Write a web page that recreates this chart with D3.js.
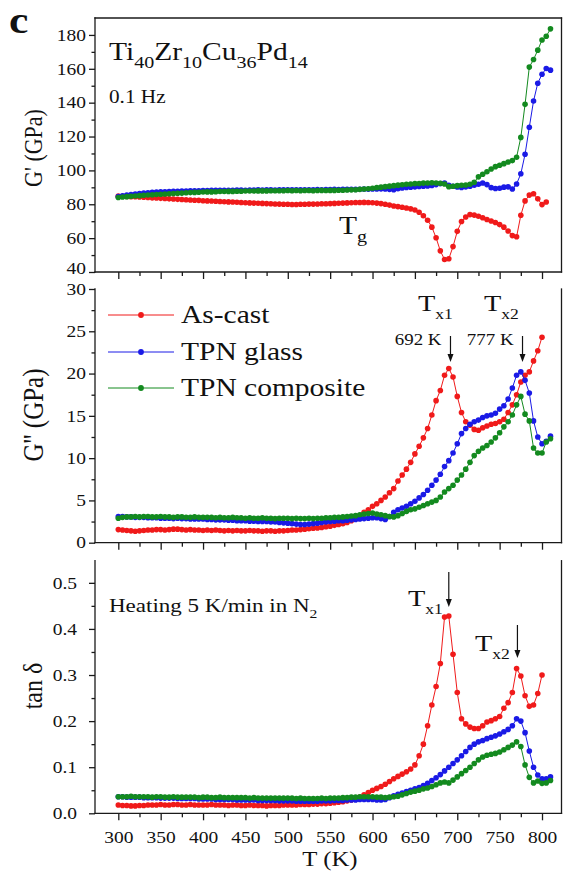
<!DOCTYPE html>
<html>
<head>
<meta charset="utf-8">
<script src="https://cdn.jsdelivr.net/npm/d3@7"></script>
<style>
  body { margin: 0; background: #fff; }
  svg { display: block; }
  text { font-family: "Liberation Serif", "Times New Roman", serif; fill: #111; }
</style>
</head>
<body>
<svg id="chart" width="563" height="873"></svg>
<script>
// Measurement temperatures (K), heating at 5 K/min
const temperature = [
  300,305,310,315,320,325,330,335,340,345,
  350,355,360,365,370,375,380,385,390,395,
  400,405,410,415,420,425,430,435,440,445,
  450,455,460,465,470,475,480,485,490,495,
  500,505,510,515,520,525,530,535,540,545,
  550,555,560,565,570,575,580,585,590,595,
  600,605,610,615,620,625,630,635,640,645,
  650,655,660,665,670,675,680,685,690,695,
  700,705,710,715,720,725,730,735,740,745,
  750,755,760,765,770,775,780,785,790,795,
  800,805,810
];

const seriesNames = ["As-cast", "TPN glass", "TPN composite"];
const seriesColors = ["#f01a1a", "#1a1ae6", "#138a1f"];

// Storage modulus G' (GPa)
const storageAsCast = [
  84.8,84.7,84.6,84.5,84.4,84.3,84.1,84.0,83.8,83.7,
  83.5,83.4,83.2,83.1,82.9,82.8,82.7,82.5,82.4,82.3,
  82.1,82.0,81.9,81.8,81.6,81.5,81.4,81.3,81.2,81.0,
  80.9,80.8,80.7,80.6,80.5,80.4,80.3,80.2,80.1,80.0,
  80.0,79.9,79.9,80.0,80.0,80.1,80.1,80.2,80.3,80.3,
  80.4,80.5,80.6,80.7,80.8,80.9,81.0,81.0,81.1,81.0,
  80.9,80.7,80.4,80.0,79.5,79.0,78.6,78.2,77.8,77.3,
  76.6,75.3,73.2,70.6,66.5,60.2,52.5,47.4,47.8,55.0,
  64.0,69.8,72.5,73.9,73.6,72.9,72.0,71.0,70.1,69.2,
  68.0,66.5,64.2,61.5,60.8,73.5,82.0,85.4,86.2,83.2,
  79.8,81.3
];
const storageGlass = [
  84.5,85.0,85.4,85.8,86.1,86.4,86.6,86.8,87.0,87.2,
  87.3,87.4,87.5,87.6,87.7,87.8,87.8,87.9,88.0,88.0,
  88.1,88.1,88.2,88.2,88.3,88.3,88.2,88.3,88.4,88.4,
  88.3,88.4,88.4,88.5,88.4,88.5,88.5,88.4,88.5,88.5,
  88.6,88.5,88.6,88.6,88.5,88.6,88.6,88.7,88.6,88.7,
  88.7,88.8,88.7,88.8,88.8,88.9,88.8,88.9,89.0,88.9,
  89.0,89.0,89.1,89.0,88.8,88.6,89.2,89.6,89.9,90.1,
  90.3,90.5,90.6,90.8,91.1,91.6,92.2,92.6,91.2,90.6,
  90.2,89.9,90.3,90.6,91.2,91.8,92.6,91.6,89.8,89.3,
  89.5,90.1,90.3,89.0,92.0,98.0,109.5,125.5,141.0,151.5,
  156.8,160.2,159.2
];
const storageComposite = [
  84.0,84.3,84.5,84.7,84.9,85.1,85.3,85.5,85.6,85.8,
  85.9,86.1,86.2,86.4,86.5,86.6,86.8,86.9,87.0,87.1,
  87.2,87.3,87.3,87.4,87.5,87.5,87.6,87.6,87.7,87.7,
  87.8,87.8,87.8,87.9,87.9,87.9,88.0,88.0,88.0,88.0,
  88.1,88.0,88.1,88.0,88.1,88.1,88.0,88.1,88.2,88.1,
  88.2,88.2,88.3,88.3,88.4,88.5,88.6,88.8,89.0,89.2,
  89.5,89.8,90.1,90.4,90.7,91.0,91.3,91.5,91.8,92.0,
  92.2,92.3,92.5,92.6,92.7,92.6,92.4,92.0,90.4,90.6,
  91.0,91.2,91.4,91.8,93.0,96.2,97.7,99.2,100.8,102.2,
  103.0,104.0,105.0,105.8,107.8,119.5,139.0,161.0,165.5,171.0,
  177.0,179.2,183.6
];

// Loss modulus G'' (GPa)
const lossAsCast = [
  1.55,1.50,1.45,1.40,1.35,1.40,1.45,1.50,1.50,1.55,
  1.55,1.50,1.55,1.60,1.60,1.55,1.50,1.55,1.50,1.50,
  1.45,1.50,1.45,1.50,1.45,1.40,1.45,1.40,1.45,1.40,
  1.40,1.45,1.40,1.40,1.35,1.40,1.40,1.35,1.40,1.40,
  1.45,1.50,1.50,1.55,1.60,1.65,1.70,1.75,1.80,1.90,
  1.95,2.05,2.15,2.25,2.40,2.60,2.80,3.20,3.60,3.90,
  4.30,4.60,5.00,5.40,5.90,6.40,7.30,8.00,8.70,9.50,
  10.5,11.4,12.4,13.5,15.1,16.8,18.0,19.8,20.6,19.6,
  17.3,15.4,14.3,13.9,13.4,13.3,13.6,13.8,14.0,14.1,
  14.3,14.6,15.4,16.3,17.5,19.0,19.8,20.2,21.5,22.7,
  24.3
];
const lossGlass = [
  3.10,3.10,3.05,3.05,3.00,3.00,3.00,2.95,2.95,2.95,
  2.90,2.90,2.90,2.85,2.90,2.85,2.85,2.80,2.80,2.80,
  2.80,2.75,2.75,2.70,2.70,2.70,2.65,2.65,2.60,2.60,
  2.60,2.55,2.55,2.50,2.50,2.50,2.45,2.45,2.40,2.35,
  2.30,2.25,2.20,2.15,2.15,2.20,2.25,2.30,2.40,2.45,
  2.50,2.55,2.60,2.60,2.65,2.70,2.75,2.80,2.85,2.90,
  2.95,2.95,2.85,2.75,3.10,3.60,3.90,4.10,4.30,4.60,
  4.90,5.30,5.70,6.20,6.80,7.40,8.10,9.00,9.70,10.6,
  11.7,12.9,13.5,14.0,14.3,14.5,14.8,15.0,15.1,15.3,
  15.8,16.2,17.0,18.3,19.8,20.2,19.2,17.7,14.4,12.5,
  11.7,12.0,12.6
];
const lossComposite = [
  2.90,3.00,3.05,3.05,3.10,3.05,3.10,3.10,3.05,3.05,
  3.10,3.05,3.05,3.00,3.05,3.05,3.00,3.00,3.05,3.00,
  3.00,3.00,3.00,2.95,3.00,2.95,2.95,3.00,2.95,2.95,
  2.90,2.95,2.90,2.90,2.95,2.90,2.90,2.85,2.90,2.90,
  2.90,2.85,2.90,2.85,2.85,2.90,2.85,2.90,2.90,2.95,
  2.95,3.00,3.00,3.05,3.10,3.15,3.20,3.30,3.40,3.45,
  3.50,3.40,3.30,3.20,3.10,3.05,3.20,3.45,3.70,3.90,
  4.00,4.20,4.40,4.60,4.80,5.00,5.40,6.00,6.40,6.80,
  7.40,8.00,8.70,9.50,10.3,10.8,11.2,11.5,11.9,12.4,
  13.0,13.7,14.3,15.1,16.3,17.3,15.2,14.4,11.2,10.6,
  10.6,11.9,12.3
];

// Loss factor tan δ
const tanAsCast = [
  0.018,0.017,0.017,0.016,0.016,0.017,0.017,0.018,0.018,0.018,
  0.019,0.018,0.018,0.019,0.019,0.018,0.018,0.019,0.018,0.018,
  0.018,0.018,0.019,0.018,0.018,0.018,0.017,0.018,0.018,0.017,
  0.017,0.018,0.017,0.017,0.017,0.016,0.017,0.017,0.017,0.018,
  0.018,0.018,0.018,0.019,0.019,0.019,0.020,0.020,0.021,0.021,
  0.022,0.023,0.024,0.025,0.027,0.029,0.031,0.035,0.040,0.045,
  0.050,0.054,0.058,0.063,0.069,0.075,0.080,0.085,0.090,0.096,
  0.105,0.125,0.150,0.190,0.235,0.275,0.325,0.426,0.428,0.345,
  0.262,0.205,0.194,0.187,0.184,0.184,0.190,0.198,0.201,0.205,
  0.210,0.228,0.240,0.262,0.314,0.298,0.255,0.232,0.235,0.260,
  0.300
];
const tanGlass = [
  0.036,0.036,0.035,0.035,0.035,0.035,0.034,0.034,0.034,0.034,
  0.033,0.033,0.033,0.033,0.032,0.032,0.032,0.032,0.032,0.031,
  0.031,0.031,0.031,0.030,0.030,0.030,0.030,0.030,0.029,0.029,
  0.029,0.029,0.029,0.028,0.028,0.028,0.028,0.028,0.027,0.027,
  0.027,0.027,0.026,0.026,0.026,0.026,0.026,0.026,0.027,0.027,
  0.027,0.028,0.028,0.028,0.029,0.029,0.029,0.030,0.030,0.030,
  0.030,0.029,0.029,0.030,0.034,0.038,0.041,0.044,0.047,0.050,
  0.053,0.056,0.060,0.065,0.071,0.077,0.084,0.092,0.100,0.108,
  0.116,0.125,0.134,0.143,0.150,0.155,0.158,0.162,0.165,0.168,
  0.172,0.177,0.182,0.190,0.205,0.200,0.175,0.135,0.100,0.083,
  0.075,0.075,0.079
];
const tanComposite = [
  0.036,0.036,0.036,0.037,0.036,0.036,0.036,0.036,0.035,0.036,
  0.036,0.035,0.035,0.036,0.035,0.035,0.035,0.035,0.035,0.034,
  0.035,0.035,0.034,0.034,0.035,0.034,0.034,0.034,0.034,0.034,
  0.034,0.033,0.034,0.033,0.033,0.033,0.033,0.033,0.033,0.033,
  0.033,0.033,0.032,0.033,0.032,0.032,0.032,0.032,0.033,0.032,
  0.033,0.033,0.033,0.034,0.034,0.035,0.035,0.036,0.036,0.036,
  0.036,0.035,0.035,0.034,0.035,0.036,0.037,0.040,0.043,0.046,
  0.048,0.050,0.053,0.055,0.058,0.062,0.066,0.068,0.066,0.072,
  0.079,0.086,0.093,0.100,0.108,0.116,0.122,0.126,0.128,0.130,
  0.133,0.138,0.143,0.148,0.155,0.145,0.105,0.078,0.066,0.070,
  0.065,0.066,0.071
];

// Axis ticks
const xMajorTicks = [300, 350, 400, 450, 500, 550, 600, 650, 700, 750, 800];
const xMinorTicks = [325, 375, 425, 475, 525, 575, 625, 675, 725, 775];
const storageTicks = [40, 60, 80, 100, 120, 140, 160, 180];
const storageMinor = [50, 70, 90, 110, 130, 150, 170];
const lossTicks = [0, 5, 10, 15, 20, 25, 30];
const lossMinor = [2.5, 7.5, 12.5, 17.5, 22.5, 27.5];
const tanTicks = [0.0, 0.1, 0.2, 0.3, 0.4, 0.5];
const tanMinor = [0.05, 0.15, 0.25, 0.35, 0.45];

// Crystallization temperatures marked on the curves (K)
const lossPeakMarks = [692, 777];
const tanPeakMarks = [690, 771];

const svg = d3.select("#chart");
const left = 95, right = 561.5;
const x = d3.scaleLinear().domain([272.5, 823]).range([left, right]);
const axisColor = "#1a1a1a";
const WIDE = 1.18; // horizontal glyph stretch used for all text

const panels = [
  { top: 18, bottom: 272, domain: [40, 190], ticks: storageTicks, minor: storageMinor,
    fmt: d3.format("d"), pad: 3, title: "G' (GPa)", titleY: 148, titleSize: 22, frameTop: true,
    data: [storageAsCast, storageGlass, storageComposite] },
  { top: 289, bottom: 542.7, domain: [0, 30], ticks: lossTicks, minor: lossMinor,
    fmt: d3.format("d"), pad: 3, title: "G'' (GPa)", titleY: 415, titleSize: 25, frameTop: false,
    data: [lossAsCast, lossGlass, lossComposite] },
  { top: 560.7, bottom: 813.3, domain: [0, 0.548], ticks: tanTicks, minor: tanMinor,
    fmt: d3.format(".1f"), pad: 12, title: "tan δ", titleY: 686, titleSize: 24, frameTop: false,
    data: [tanAsCast, tanGlass, tanComposite] }
];

function widen(textSel) {
  textSel.each(function () {
    const t = d3.select(this);
    const tx = +t.attr("x") || 0;
    t.attr("x", 0).attr("transform", `translate(${tx},0) scale(${WIDE},1)`);
  });
}

panels.forEach((p, pi) => {
  const y = d3.scaleLinear().domain(p.domain).range([p.bottom, p.top]);
  const g = svg.append("g");

  // curves: thin connecting line plus dot markers
  p.data.forEach((vals, si) => {
    const pts = vals.map((v, i) => [temperature[i], v]);
    g.append("path")
      .datum(pts)
      .attr("fill", "none")
      .attr("stroke", seriesColors[si])
      .attr("stroke-width", 1)
      .attr("d", d3.line().x(d => x(d[0])).y(d => y(d[1])));
    g.selectAll(null).data(pts).enter().append("circle")
      .attr("cx", d => x(d[0]))
      .attr("cy", d => y(d[1]))
      .attr("r", 2.8)
      .attr("fill", seriesColors[si]);
  });

  // y axis: major and minor ticks
  const yMajor = g.append("g").attr("transform", `translate(${left},0)`)
    .call(d3.axisLeft(y).tickValues(p.ticks).tickFormat(p.fmt).tickSize(6).tickSizeOuter(0).tickPadding(p.pad));
  const yMin = g.append("g").attr("transform", `translate(${left},0)`)
    .call(d3.axisLeft(y).tickValues(p.minor).tickFormat("").tickSize(3.5).tickSizeOuter(0));

  // x axis at the bottom of each panel
  const xMajor = g.append("g").attr("transform", `translate(0,${p.bottom})`)
    .call(d3.axisBottom(x).tickValues(xMajorTicks).tickSize(7).tickSizeOuter(0).tickPadding(11)
      .tickFormat(pi === 2 ? d3.format("d") : ""));
  const xMin = g.append("g").attr("transform", `translate(0,${p.bottom})`)
    .call(d3.axisBottom(x).tickValues(xMinorTicks).tickFormat("").tickSize(4).tickSizeOuter(0));

  [yMajor, yMin, xMajor, xMin].forEach(a => {
    a.select(".domain").remove();
    a.selectAll("line").attr("stroke", axisColor).attr("stroke-width", 1.3);
    a.selectAll("text").attr("font-size", 16.5).attr("fill", "#111");
  });
  widen(yMajor.selectAll("text"));
  widen(xMajor.selectAll("text"));
  // keep the lowest G' label clear of the G'' panel's top label
  if (pi === 0) yMajor.selectAll("text").filter(d => d === p.domain[0]).attr("dy", "0.12em");

  // frame
  const frame = [[left, p.top, left, p.bottom], [left, p.bottom, right, p.bottom], [right, p.top, right, p.bottom]];
  if (p.frameTop) frame.push([left, p.top, right, p.top]);
  g.selectAll(null).data(frame).enter().append("line")
    .attr("x1", d => d[0]).attr("y1", d => d[1]).attr("x2", d => d[2]).attr("y2", d => d[3])
    .attr("stroke", axisColor).attr("stroke-width", 1.3).attr("stroke-linecap", "square");

  // y title
  svg.append("text")
    .attr("transform", `translate(33,${p.titleY}) scale(${WIDE},1) rotate(-90)`)
    .attr("text-anchor", "middle")
    .attr("dominant-baseline", "central")
    .attr("font-size", p.titleSize)
    .text(p.title);
});

// text with optional subscripts, drawn with the same horizontal stretch
function rich(x0, y0, parts, size, opts) {
  opts = opts || {};
  const t = svg.append("text")
    .attr("transform", `translate(${x0},${y0}) scale(${WIDE},1)`)
    .attr("font-size", size)
    .attr("font-weight", opts.bold ? "bold" : null)
    .attr("text-anchor", opts.anchor || "start");
  let shifted = 0;
  const subScale = opts.subScale || 0.68;
  parts.forEach(([str, sub]) => {
    const target = sub ? size * 0.32 : 0;
    t.append("tspan")
      .attr("dy", target - shifted)
      .attr("font-size", sub ? size * subScale : size)
      .text(str);
    shifted = target;
  });
  return t;
}

function arrow(xPos, y1, y2) {
  svg.append("line").attr("x1", xPos).attr("x2", xPos).attr("y1", y1).attr("y2", y2 - 6)
    .attr("stroke", "#111").attr("stroke-width", 1.2);
  svg.append("path")
    .attr("d", `M${xPos - 3},${y2 - 8} L${xPos + 3},${y2 - 8} L${xPos},${y2} Z`)
    .attr("fill", "#111");
}

// panel label
rich(9, 33, [["c"]], 37, { bold: true });

// top panel annotations
rich(109, 60, [["Ti"], ["40", 1], ["Zr"], ["10", 1], ["Cu"], ["36", 1], ["Pd"], ["14", 1]], 25);
rich(109, 103, [["0.1 Hz"]], 18);
rich(339, 234, [["T"], ["g", 1]], 25);

// legend
const legendY = [315, 352, 388];
seriesNames.forEach((name, i) => {
  svg.append("line").attr("x1", 108).attr("x2", 174).attr("y1", legendY[i]).attr("y2", legendY[i])
    .attr("stroke", seriesColors[i]).attr("stroke-width", 1);
  svg.append("circle").attr("cx", 141).attr("cy", legendY[i]).attr("r", 2.9).attr("fill", seriesColors[i]);
  rich(181, legendY[i] + 8, [[name]], 25);
});

// loss modulus peak markers
rich(418, 311, [["T"], ["x1", 1]], 24, { subScale: 0.62 });
rich(484, 311, [["T"], ["x2", 1]], 24, { subScale: 0.62 });
rich(x(lossPeakMarks[0]) - 9, 345, [[lossPeakMarks[0] + " K"]], 16, { anchor: "end" });
rich(x(lossPeakMarks[1]) - 9, 345, [[lossPeakMarks[1] + " K"]], 16, { anchor: "end" });
arrow(x(lossPeakMarks[0]), 336, 362);
arrow(x(lossPeakMarks[1]), 336, 362);

// tan δ annotations
rich(109, 612, [["Heating 5 K/min in N"], ["2", 1]], 19.5);
rich(408, 606, [["T"], ["x1", 1]], 24, { subScale: 0.62 });
rich(475, 651, [["T"], ["x2", 1]], 24, { subScale: 0.62 });
arrow(x(tanPeakMarks[0]), 572, 607);
arrow(x(tanPeakMarks[1]), 625, 658);

// x title
rich(330, 866, [["T (K)"]], 21, { anchor: "middle" });
</script>
</body>
</html>
